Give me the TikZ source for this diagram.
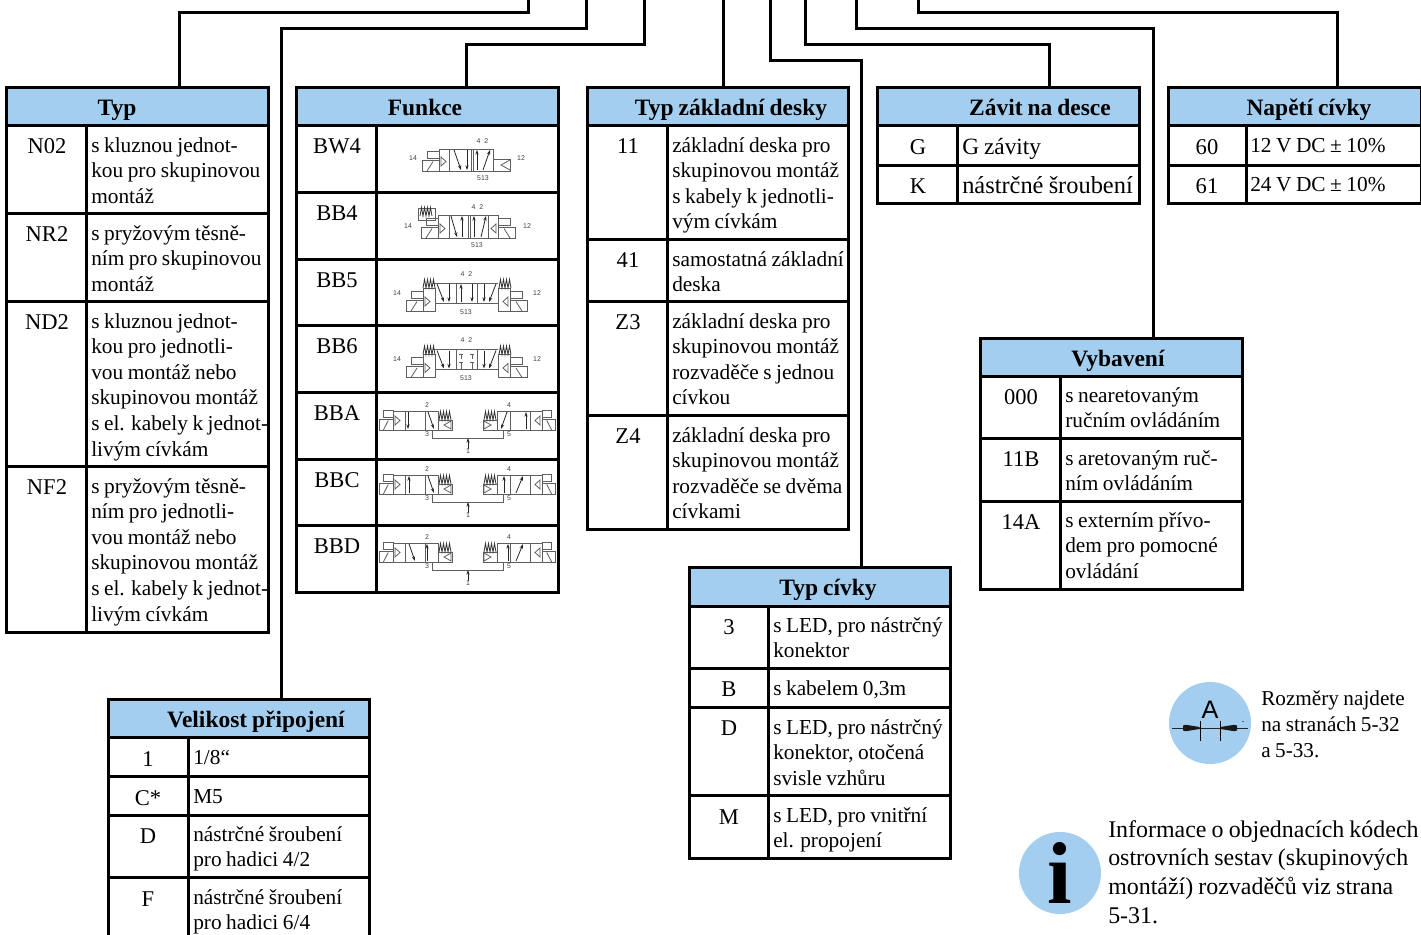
\documentclass[tikz,border=0pt]{standalone}
\usepackage{fontspec}
\setmainfont[WordSpace=0.85]{Liberation Serif}
\newfontfamily\lblfont{Liberation Sans}
\usetikzlibrary{arrows.meta}
\definecolor{hblue}{HTML}{A3CEEF}
\definecolor{vgray}{HTML}{5E5E5E}
\newcounter{rc}
\tikzset{
 conn/.style={line width=2.25pt,line join=miter},
 hbox/.style={draw,line width=2.25pt,fill=hblue,anchor=north west,inner sep=0pt,outer sep=0pt,xshift=-0.15pt},
 cbox/.style={draw,line width=2.25pt,anchor=north west,inner sep=0pt,outer sep=0pt,xshift=-0.15pt},
 htext/.style={font=\fontsize{17.6pt}{20pt}\selectfont\bfseries,anchor=base,inner sep=0pt},
 ctext/.style={font=\fontsize{16.9pt}{20pt}\selectfont,anchor=base,inner sep=0pt},
 ltext/.style={font=\fontsize{16pt}{19.2pt}\selectfont,anchor=base west,inner sep=0pt},
 vl/.style={draw=vgray,line width=0.6pt},
 vf/.style={draw=black!85,line width=0.6pt,-{Stealth[length=3.6pt,width=2.5pt]}},
 vt/.style={font=\lblfont\fontsize{5.2pt}{6pt}\selectfont,text=black!75,inner sep=0pt,anchor=center},
 pxg/.style={x=0.75pt,y=-0.75pt},
}
\newcommand\hdr[7]{% name,x0,y0,x1,y1,cx,title (baseline y0+28)
 \node[hbox,minimum width={(#4-#2)*0.75pt},minimum height={(#5-#3)*0.75pt}] (#1) at (#2,#3) {};
 \node[htext] (#1t) at (#6,#3+28) {#7};}
\newcommand\rowc[9]{% xL,xM,xR,yT,yB,cx,cy,code,tx  then ty,text
 \def\tA{#1}\def\tB{#2}\def\tC{#3}\def\tD{#4}\def\tE{#5}\def\tF{#6}\def\tG{#7}\def\tH{#8}\def\tI{#9}\rowcb}
\newcommand\rowcb[2]{%
 \stepcounter{rc}%
 \node[cbox,minimum width={(\tB-\tA)*0.75pt},minimum height={(\tE-\tD)*0.75pt}] (ca\arabic{rc}) at (\tA,\tD) {};
 \node[cbox,minimum width={(\tC-\tB)*0.75pt},minimum height={(\tE-\tD)*0.75pt}] (cb\arabic{rc}) at (\tB,\tD) {};
 \node[ctext] (cc\arabic{rc}) at (\tF,\tG) {\tH};
 \node[ltext] (cd\arabic{rc}) at (\tI,#1) {\begin{tabular}[t]{@{}l@{}}#2\end{tabular}};}
\newcommand\frow[6]{% yT,yB,cy,code,name,drawing
 \stepcounter{rc}%
 \node[cbox,minimum width=60pt,minimum height={(#2-#1)*0.75pt}] (ca\arabic{rc}) at (297,#1) {};
 \node[cbox,minimum width=136.5pt,minimum height={(#2-#1)*0.75pt}] (cb\arabic{rc}) at (377,#1) {};
 \node[ctext] (cc\arabic{rc}) at (337,#3) {#4};}
% solenoid actuator; origin at body edge, bottom line
\newcommand\actu[4]{\begin{scope}[shift={(#1,#2)},xscale=#3]
 \draw[vl] (-17*#4,-11) rectangle (0,0);
 \draw[vl] (-12*#4,0)--(-6*#4,-9.5);
 \draw[vl] (-12*#4,-20) rectangle (0,-13);
 \draw[vl] (2,-14)--(7,-9.5)--(2,-5)--cycle;
 \end{scope}}
\newcommand\spr[2]{\draw[draw=black!80,line width=0.6pt] (#1,#2)--++(1.5,-8.5)--++(1.5,8.5)--++(1.5,-8.5)--++(1.5,8.5)--++(1.5,-8.5)--++(1.5,8.5)--++(1.5,-8.5)--++(1.5,8.5);}
\newcommand\bigv[2]{% y, centre
 \pgfmathsetmacro\yy{#1}
 \draw[vl] (423,\yy+5) rectangle (435,\yy+28);
 \draw[vl] (498,\yy+5) rectangle (510,\yy+28);
 \draw[vl] (433,\yy)--(498,\yy) (435,\yy+20)--(498,\yy+20);
 \draw[vl] (456,\yy)--(456,\yy+20) (477,\yy)--(477,\yy+20);
 \actu{423}{\yy+28}{1}{1}
 \actu{510}{\yy+28}{-1}{1}
 \spr{423}{\yy+5}\spr{499}{\yy+5}
 \draw[vf] (437,\yy+1)--(444,\yy+19);
 \draw[vf] (449,\yy+1)--(449,\yy+19);
 \draw[vf] (484,\yy+1)--(484,\yy+19);
 \draw[vf] (496,\yy+1)--(489,\yy+19);
 #2
 \node[vt] at (397,\yy+10) {14};
 \node[vt] at (537,\yy+10) {12};
 \node[vt] at (466.5,\yy-9) {4\hspace{3pt}2};
 \node[vt] at (466,\yy+29) {513};}
\newcommand\dblv[2]{% y, arrows
 \pgfmathsetmacro\yy{#1}
 \draw[vl] (393,\yy) rectangle (438,\yy+19);
 \draw[vl] (405,\yy)--(405,\yy+19) (425,\yy)--(425,\yy+19);
 \draw[vl] (438,\yy+9) rectangle (452,\yy+19);
 \draw[vl] (451,\yy+10)--(444,\yy+14)--(451,\yy+18)--cycle;
 \spr{439}{\yy+9}
 \actu{393}{\yy+19}{1}{.8}
 \draw[vl] (497,\yy) rectangle (542,\yy+19);
 \draw[vl] (530,\yy)--(530,\yy+19) (510,\yy)--(510,\yy+19);
 \draw[vl] (483,\yy+9) rectangle (497,\yy+19);
 \draw[vl] (484,\yy+10)--(491,\yy+14)--(484,\yy+18)--cycle;
 \spr{484}{\yy+9}
 \actu{542}{\yy+19}{-1}{.8}
 \draw[vl] (432,\yy+19)--(432,\yy+27)--(503,\yy+27)--(503,\yy+19);
 \draw[vf] (468,\yy+38)--(468,\yy+27);
 #2
 \node[vt] at (427,\yy-6) {2};
 \node[vt] at (427,\yy+23) {3};
 \node[vt] at (509,\yy-6) {4};
 \node[vt] at (509,\yy+23) {5};
 \node[vt] at (468,\yy+40) {1};}
\begin{document}
\begin{tikzpicture}[pxg]
\useasboundingbox (0,0) rectangle (1421,935);
\clip (0,0) rectangle (1421,935);
% Typ
\hdr{typ}{7}{87}{269}{125}{117}{Typ}
\rowc{7}{87}{269}{125}{213}{47}{153}{N02}{91}{152}{s kluznou jednot-\\kou pro skupinovou\\montáž}
\rowc{7}{87}{269}{213}{301}{47}{241}{NR2}{91}{240}{s pryžovým těsně-\\ním pro skupinovou\\montáž}
\rowc{7}{87}{269}{301}{466}{47}{329}{ND2}{91}{328}{s kluznou jednot-\\kou pro jednotli-\\vou montáž nebo\\skupinovou montáž\\s el. kabely k jednot-\\livým cívkám}
\rowc{7}{87}{269}{466}{632}{47}{494}{NF2}{91}{493}{s pryžovým těsně-\\ním pro jednotli-\\vou montáž nebo\\skupinovou montáž\\s el. kabely k jednot-\\livým cívkám}
% Funkce
\hdr{fun}{297}{87}{559}{125}{425}{Funkce}
\frow{125}{192}{153}{BW4}{}{}
\frow{192}{259}{220}{BB4}{}{}
\frow{259}{325}{287}{BB5}{}{}
\frow{325}{392}{353}{BB6}{}{}
\frow{392}{459}{420}{BBA}{}{}
\frow{459}{525}{487}{BBC}{}{}
\frow{525}{592}{553}{BBD}{}{}
% BW4
\draw[vl] (439,149) rectangle (493,171);
\draw[vl] (449,149)--(449,171) (471,149)--(471,171) (473,149)--(473,171);
\actu{439}{171}{1}{1}
\draw[vl] (493,159) rectangle (510,171);
\draw[vl] (510,160)--(501,165)--(510,170);
\draw[vf] (454,150)--(461,170);
\draw[vf] (467,150)--(467,170);
\draw[vf] (477,170)--(477,150);
\draw[vf] (483,170)--(490,150);
\node[vt] at (413,158) {14};
\node[vt] at (521,158) {12};
\node[vt] at (482.5,141) {4\hspace{3pt}2};
\node[vt] at (483,178) {513};
% BB4
\draw[vl] (438,215) rectangle (498,238);
\draw[vl] (449,215)--(449,238) (468,215)--(468,238) (470,215)--(470,238) (488,215)--(488,238);
\actu{438}{238}{1}{1}
\draw[vl] (418,208) rectangle (435,220);
\spr{420}{216}
\actu{498}{238}{-1}{1}
\draw[vf] (451,216)--(457,237);
\draw[vf] (462,237)--(462,216);
\draw[vf] (474,237)--(474,216);
\draw[vf] (481,237)--(486,216);
\node[vt] at (408,226) {14};
\node[vt] at (527,226) {12};
\node[vt] at (477.5,207) {4\hspace{3pt}2};
\node[vt] at (477,245) {513};
% BB5
\bigv{283}{\draw[vf] (461,\yy+19)--(461,\yy+1);\draw[vf] (472,\yy+1)--(472,\yy+19);}
% BB6
\bigv{349.5}{\draw[vl] (461,\yy+5)--(461,\yy+9) (472,\yy+5)--(472,\yy+9) (459,\yy+5)--(463,\yy+5) (470,\yy+5)--(474,\yy+5);\draw[vl] (461,\yy+13)--(461,\yy+19) (472,\yy+13)--(472,\yy+19) (459,\yy+13)--(463,\yy+13) (470,\yy+13)--(474,\yy+13);}
% BBA, BBC, BBD
\dblv{411}{\draw[vf] (408,\yy+1)--(408,\yy+18);\draw[vf] (428,\yy+1)--(434,\yy+18);\draw[vf] (507,\yy+1)--(501,\yy+18);\draw[vf] (526,\yy+18)--(526,\yy+1);}
\dblv{475}{\draw[vf] (409,\yy+18)--(409,\yy+1);\draw[vf] (428,\yy+1)--(434,\yy+18);\draw[vf] (504,\yy+18)--(504,\yy+1);\draw[vf] (516,\yy+18)--(523,\yy+1);}
\dblv{543}{\draw[vf] (409,\yy+1)--(415,\yy+18);\draw[vf] (427,\yy+18)--(427,\yy+1);\draw[vf] (508,\yy+18)--(508,\yy+1);\draw[vf] (516,\yy+18)--(523,\yy+1);}
% Typ zakladni desky
\hdr{des}{588}{87}{849}{125}{731}{Typ základní desky}
\rowc{588}{668}{849}{125}{239}{628}{153}{11}{672}{152}{základní deska pro\\skupinovou montáž\\s kabely k jednotli-\\vým cívkám}
\rowc{588}{668}{849}{239}{301}{628}{267}{41}{672}{266}{samostatná základní\\deska}
\rowc{588}{668}{849}{301}{415}{628}{329}{Z3}{672}{328}{základní deska pro\\skupinovou montáž\\rozvaděče s jednou\\cívkou}
\rowc{588}{668}{849}{415}{529}{628}{443}{Z4}{672}{442}{základní deska pro\\skupinovou montáž\\rozvaděče se dvěma\\cívkami}
% Zavit
\hdr{zav}{878}{87}{1140}{125}{1040}{Závit na desce}
\rowc{878}{958}{1140}{125}{165}{918}{154}{G}{962}{154}{\fontsize{17.5pt}{19.2pt}\selectfont G závity}
\rowc{878}{958}{1140}{165}{203}{918}{193}{K}{962}{193}{\fontsize{18.3pt}{19.2pt}\selectfont nástrčné šroubení}
% Napeti
\hdr{nap}{1169}{87}{1422}{125}{1309}{Napětí cívky}
\rowc{1169}{1247}{1422}{125}{165}{1207}{154}{60}{1250}{152}{12 V DC ± 10\%}
\rowc{1169}{1247}{1422}{165}{203}{1207}{193}{61}{1250}{191}{24 V DC ± 10\%}
% Vybaveni
\hdr{vyb}{981}{338}{1243}{376}{1118}{Vybavení}
\rowc{981}{1061}{1243}{376}{438}{1021}{404}{000}{1065}{402}{s nearetovaným\\ručním ovládáním}
\rowc{981}{1061}{1243}{438}{501}{1021}{466}{11B}{1065}{465}{s aretovaným ruč-\\ním ovládáním}
\rowc{981}{1061}{1243}{501}{589}{1021}{529}{14A}{1065}{527}{s externím přívo-\\dem pro pomocné\\ovládání}
% Typ civky
\hdr{civ}{690}{567}{951}{606}{828}{Typ cívky}
\rowc{690}{769}{951}{606}{668}{729}{634}{3}{773}{632}{s LED, pro nástrčný\\konektor}
\rowc{690}{769}{951}{668}{707}{729}{696}{B}{773}{695}{s kabelem 0,3m}
\rowc{690}{769}{951}{707}{795}{729}{735}{D}{773}{734}{s LED, pro nástrčný\\konektor, otočená\\svisle vzhůru}
\rowc{690}{769}{951}{795}{858}{729}{824}{M}{773}{822}{s LED, pro vnitřní\\el. propojení}
% Velikost
\hdr{vel}{109}{699}{370}{737}{256}{Velikost připojení}
\rowc{109}{189}{370}{737}{776}{148}{766}{1}{193}{764}{1/8“}
\rowc{109}{189}{370}{776}{815}{148}{805}{C*}{193}{803}{M5}
\rowc{109}{189}{370}{815}{877}{148}{843}{D}{193}{841}{nástrčné šroubení\\pro hadici 4/2}
\rowc{109}{189}{370}{877}{945}{148}{906}{F}{193}{904}{nástrčné šroubení\\pro hadici 6/4}
% connectors
\coordinate (t1) at (528,-2);\coordinate (t2) at (586,-2);\coordinate (t3) at (644,-2);\coordinate (t4) at (723,-2);
\coordinate (t5) at (770,-2);\coordinate (t6) at (805,-2);\coordinate (t7) at (856,-2);\coordinate (t8) at (918,-2);
\draw[conn] (t1) -- (528,12) -| ([xshift=31.5pt]typ.north);
\draw[conn] (t2) -- (586,28) -| ([xshift=31.9pt]vel.north);
\draw[conn] (t3) -- (644,44) -| ([xshift=29.25pt]fun.north);
\draw[conn] (t4) |- ([xshift=3.6pt]des.north);
\draw[conn] (t5) -- (770,60) -| ([xshift=31.1pt]civ.north);
\draw[conn] (t6) -- (805,44) -| ([xshift=30.75pt]zav.north);
\draw[conn] (t7) -- (856,28) -| ([xshift=31.5pt]vyb.north);
\draw[conn] (t8) -- (918,12) -| ([xshift=31.5pt]nap.north);
% A icon
\node[circle,fill=hblue,minimum size=61.5pt,inner sep=0pt] (ca) at (1210,723) {};
\node[font=\lblfont\fontsize{19pt}{20pt}\selectfont,anchor=base,inner sep=0pt] (catext) at (1210,718) {A};
\coordinate (al) at (1172,728);\coordinate (ar) at (1248,728);
\draw[line width=0.75pt,black!85] (al)--(ar);
\fill[black!90] (1183,725.5)--(1186,724.8)--(1199.5,727)--(1199.5,729)--(1186,731.2)--(1183,730.5)--cycle;
\fill[black!90] (1237,725.5)--(1234,724.8)--(1220.5,727)--(1220.5,729)--(1234,731.2)--(1237,730.5)--cycle;
\draw[line width=0.75pt] (1200,721)--(1200,741) (1220,721)--(1220,741);
\fill[black!60] (1242,721) rectangle (1244,721.7);
\node[anchor=base west,inner sep=0pt,font=\fontsize{15.9pt}{19.5pt}\selectfont] (atext) at (1261,705) {\begin{tabular}[t]{@{}l@{}}Rozměry najdete\\na stranách 5-32\\a 5-33.\end{tabular}};
% i icon
\node[circle,fill=hblue,minimum size=61.5pt,inner sep=0pt] (ci) at (1060,873) {};
\node[font=\fontsize{66pt}{70pt}\selectfont\bfseries,anchor=base,inner sep=0pt] (citext) at (1060,903) {i};
\node[anchor=base west,inner sep=0pt,font=\fontsize{17.95pt}{21.7pt}\selectfont] (itext) at (1108,837) {\begin{tabular}[t]{@{}l@{}}Informace o objednacích kódech\\ostrovních sestav (skupinových\\montáží) rozvaděčů viz strana\\5-31.\end{tabular}};
\end{tikzpicture}
\end{document}
